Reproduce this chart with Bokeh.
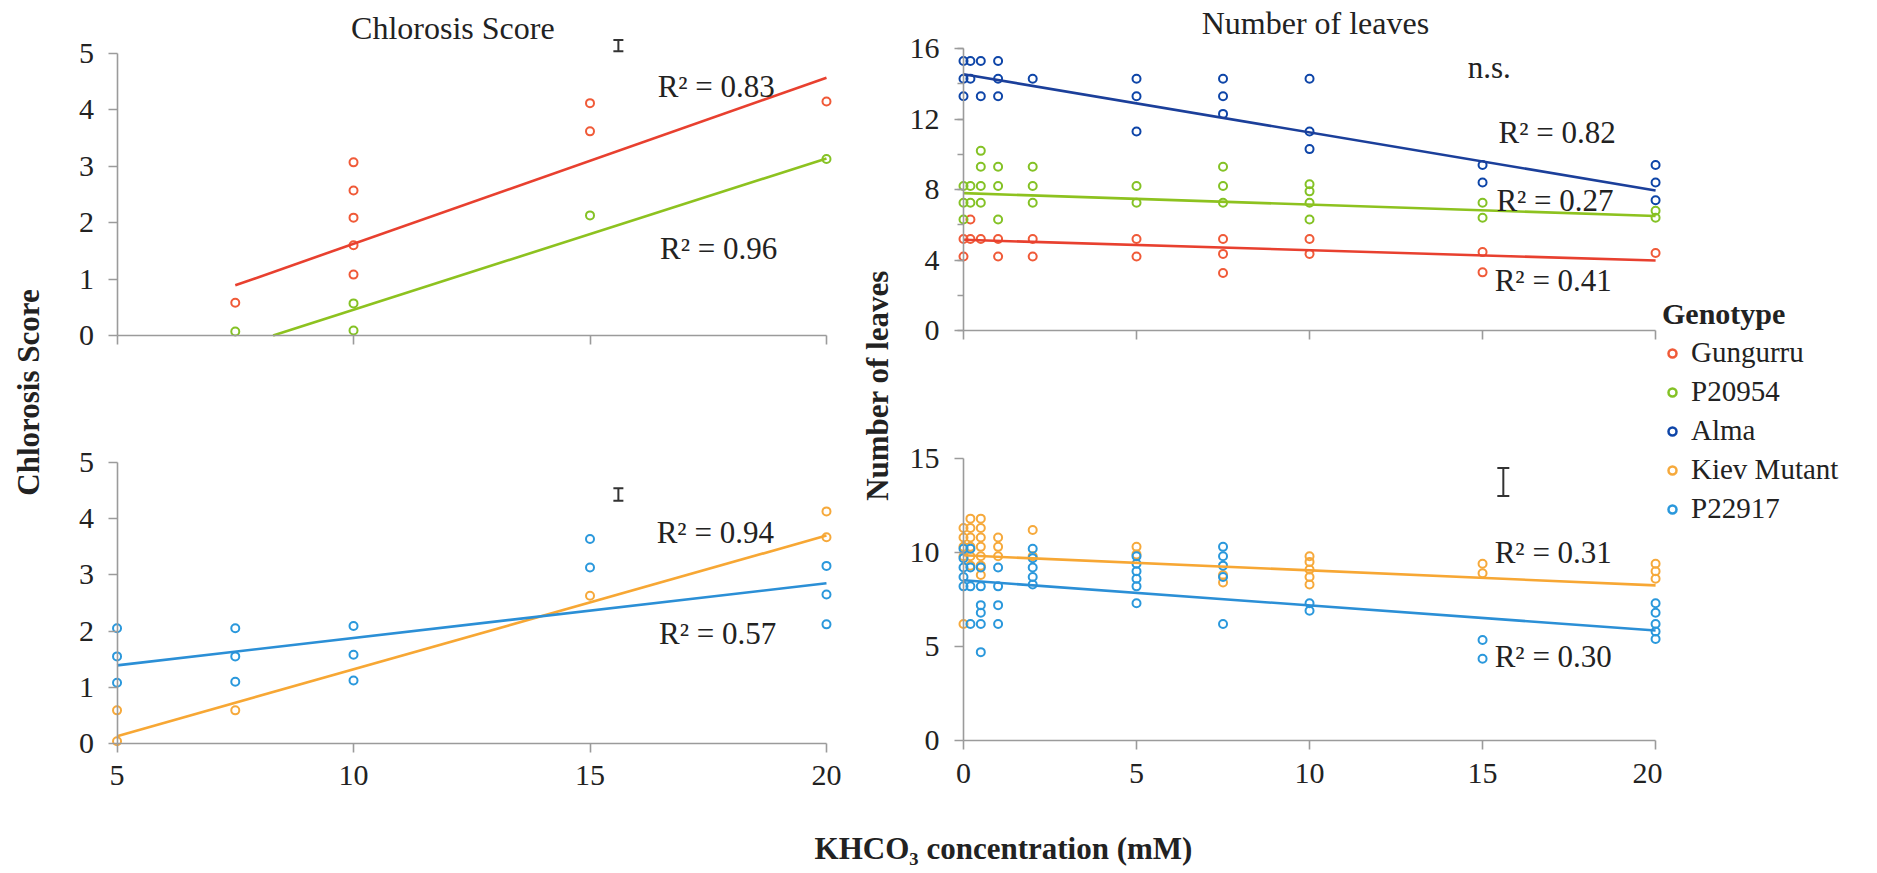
from math import pi
from bokeh.plotting import figure
from bokeh.models import (Range1d, FixedTicker, Label, Legend, LegendItem, Whisker,
                          TeeHead, ColumnDataSource, Spacer)
from bokeh.layouts import row, column
from bokeh.embed import file_html
from bokeh.resources import INLINE

FONT = "Liberation Serif"
TXT = "#222222"
AX = "#9b9b9b"

# ---------------- data ----------------
genotypes = ["Gungurru", "P20954", "Alma", "Kiev Mutant", "P22917"]
point_colors = ["#F05A38", "#84C225", "#0E45A8", "#F6A93B", "#2A98DC"]
line_colors = ["#E8402F", "#8DC21F", "#1B3F9A", "#F7A734", "#2B8FD6"]

# Chlorosis score (left panels), KHCO3 mM vs score
cs_gungurru_x = [7.5, 10, 10, 10, 10, 10, 15, 15, 20]
cs_gungurru_y = [0.58, 3.07, 2.57, 2.09, 1.60, 1.08, 4.12, 3.62, 4.15]
cs_p20954_x = [7.5, 10, 10, 15, 20]
cs_p20954_y = [0.07, 0.57, 0.09, 2.13, 3.13]
cs_kiev_x = [5, 5, 7.5, 15, 20, 20]
cs_kiev_y = [0.59, 0.04, 0.59, 2.63, 4.13, 3.67]
cs_p22917_x = [5, 5, 5, 7.5, 7.5, 7.5, 10, 10, 10, 15, 15, 20, 20, 20]
cs_p22917_y = [2.05, 1.55, 1.08, 2.05, 1.55, 1.10, 2.09, 1.58, 1.12, 3.64, 3.13, 3.16, 2.65, 2.12]
# fitted lines (end points)
cs_gungurru_fit_x = [7.5, 20]
cs_gungurru_fit_y = [0.89, 4.57]
cs_p20954_fit_x = [8.3, 20]
cs_p20954_fit_y = [0.0, 3.14]
cs_kiev_fit_x = [5, 20]
cs_kiev_fit_y = [0.13, 3.70]
cs_p22917_fit_x = [5, 20]
cs_p22917_fit_y = [1.39, 2.85]
cs_top_r2 = ["R² = 0.83", "R² = 0.96"]
cs_bottom_r2 = ["R² = 0.94", "R² = 0.57"]

# Number of leaves (right panels)
nl_gungurru_x = [0.2, 0, 0.2, 0.5, 1, 2, 5, 7.5, 10, 0, 1, 2, 5, 7.5, 10, 7.5, 15, 15, 20]
nl_gungurru_y = [6.3, 5.2, 5.2, 5.2, 5.2, 5.2, 5.2, 5.2, 5.2, 4.2, 4.2, 4.2, 4.2, 4.35, 4.35,
                 3.26, 3.3, 4.45, 4.4]
nl_p20954_x = [0.5, 0.5, 1, 2, 7.5, 0, 0.2, 0.5, 1, 2, 5, 7.5, 10, 10,
               0, 0.2, 0.5, 2, 5, 7.5, 10, 15, 0, 1, 10, 15, 20, 20]
nl_p20954_y = [10.2, 9.3, 9.3, 9.3, 9.3, 8.2, 8.2, 8.2, 8.2, 8.2, 8.2, 8.2, 8.3, 7.9,
               7.25, 7.25, 7.25, 7.25, 7.25, 7.25, 7.25, 7.25, 6.3, 6.3, 6.3, 6.4, 6.8, 6.4]
nl_alma_x = [0, 0.2, 0.5, 1, 0, 0.2, 1, 2, 5, 7.5, 10, 0, 0.5, 1, 5, 7.5, 7.5, 5, 10, 10,
             15, 15, 20, 20, 20]
nl_alma_y = [15.3, 15.3, 15.3, 15.3, 14.3, 14.3, 14.3, 14.3, 14.3, 14.3, 14.3,
             13.3, 13.3, 13.3, 13.3, 13.3, 12.3, 11.3, 11.3, 10.3, 9.4, 8.4, 9.4, 8.4, 7.4]
nl_kiev_x = [0, 0, 0, 0, 0, 0.2, 0.2, 0.2, 0.2, 0.2, 0.2, 0.5, 0.5, 0.5, 0.5, 0.5, 0.5, 0.5,
             1, 1, 1, 2, 2, 5, 5, 7.5, 7.5, 10, 10, 10, 10, 10, 15, 15, 20, 20, 20]
nl_kiev_y = [11.3, 10.8, 10.3, 9.8, 6.2, 11.8, 11.3, 10.8, 10.3, 9.8, 9.3,
             11.8, 11.3, 10.8, 10.3, 9.8, 9.3, 8.8, 10.8, 10.3, 9.8, 11.2, 9.8, 10.3, 9.9,
             8.8, 8.4, 9.8, 9.5, 9.1, 8.7, 8.3, 9.4, 8.9, 9.4, 9.0, 8.6]
nl_p22917_x = [0, 0, 0, 0, 0, 0.2, 0.2, 0.2, 0.2, 0.5, 0.5, 0.5, 0.5, 0.5, 0.5,
               1, 1, 1, 1, 2, 2, 2, 2, 2, 5, 5, 5, 5, 5, 5, 7.5, 7.5, 7.5, 7.5, 7.5,
               10, 10, 15, 15, 20, 20, 20, 20, 20]
nl_p22917_y = [10.2, 9.7, 9.2, 8.7, 8.2, 10.2, 9.2, 8.2, 6.2, 9.2, 8.2, 7.2, 6.8, 6.2, 4.7,
               9.2, 8.2, 7.2, 6.2, 10.2, 9.7, 9.2, 8.7, 8.3, 9.8, 9.4, 9.0, 8.6, 8.2, 7.3,
               10.3, 9.8, 9.3, 8.7, 6.2, 7.3, 6.9, 5.35, 4.35, 7.3, 6.8, 6.2, 5.8, 5.4]
nl_gungurru_fit_x = [0, 20]
nl_gungurru_fit_y = [5.15, 3.97]
nl_p20954_fit_x = [0, 20]
nl_p20954_fit_y = [7.8, 6.5]
nl_alma_fit_x = [0, 20]
nl_alma_fit_y = [14.55, 7.95]
nl_kiev_fit_x = [0, 20]
nl_kiev_fit_y = [9.85, 8.25]
nl_p22917_fit_x = [0, 20]
nl_p22917_fit_y = [8.52, 5.85]
nl_top_r2 = ["R² = 0.82", "R² = 0.27", "R² = 0.41"]
nl_bottom_r2 = ["R² = 0.31", "R² = 0.30"]

# LSD bars: (x, lower, upper)
lsd_cs_top = ([15.6], [5.04], [5.24])
lsd_cs_bottom = ([15.6], [4.32], [4.54])
lsd_nl_bottom = ([15.6], [13.0], [14.5])

cs_ticks_x = [5, 10, 15, 20]
cs_ticks_y = [0, 1, 2, 3, 4, 5]
nl_ticks_x = [0, 5, 10, 15, 20]
nl_top_ticks_y = [0, 4, 8, 12, 16]
nl_top_minor_y = [0, 2, 4, 6, 8, 10, 12, 14, 16]
nl_bottom_ticks_y = [0, 5, 10, 15]


def make_panel(width, height, xr, yr, xt, xb, yt, yb, ym, x_at, y_at, x_labels, y_standoff):
    p = figure(width=width, height=height, x_range=Range1d(*xr), y_range=Range1d(*yr),
               output_backend="svg", toolbar_location=None, title=None,
               min_border_left=0, min_border_right=0, min_border_top=0,
               min_border_bottom=0)
    p.outline_line_color = None
    p.xgrid.visible = False
    p.ygrid.visible = False
    p.background_fill_color = "white"
    p.border_fill_color = "white"
    xa = p.xaxis[0]
    ya = p.yaxis[0]
    if x_labels:
        xa.ticker = FixedTicker(ticks=xt)
    else:
        # unlabelled panels: tick marks only (drawn as minor ticks, no label texts)
        xa.ticker = FixedTicker(ticks=[], minor_ticks=xt)
    ya.ticker = FixedTicker(ticks=yt, minor_ticks=ym)
    xa.bounds = xb
    ya.bounds = yb
    xa.fixed_location = x_at
    ya.fixed_location = y_at
    for ax in (xa, ya):
        ax.axis_line_color = AX
        ax.axis_line_width = 1.6
        ax.major_tick_line_color = AX
        ax.major_tick_line_width = 1.6
        ax.major_tick_in = 0
        ax.major_tick_out = 9
        ax.minor_tick_line_color = AX
        ax.minor_tick_line_width = 1.4
        ax.minor_tick_in = 0
        ax.minor_tick_out = 6
        ax.major_label_text_font = FONT
        ax.major_label_text_font_size = "30px"
        ax.major_label_text_color = TXT
    ya.major_label_standoff = y_standoff
    if not ym:
        ya.minor_tick_line_color = None
    if x_labels:
        xa.minor_tick_line_color = None
        xa.major_label_standoff = 14
    else:
        xa.minor_tick_out = 9
        xa.minor_tick_line_width = 1.6
    return p


def pts(p, x, y, c):
    p.scatter(x=x, y=y, marker="circle", size=8, fill_color=None, line_color=c, line_width=2)


def fit(p, x, y, c):
    p.line(x=x, y=y, line_color=c, line_width=2.6)


def text(p, x, y, s, size="31px", align="left", style="normal", angle=0.0):
    p.add_layout(Label(x=x, y=y, text=s, text_font=FONT, text_font_size=size,
                       text_color=TXT, text_align=align, text_baseline="middle",
                       text_font_style=style, angle=angle))


def lsd(p, bar, head):
    src = ColumnDataSource(dict(x=bar[0], lower=bar[1], upper=bar[2]))
    p.add_layout(Whisker(source=src, base="x", lower="lower", upper="upper",
                         dimension="height", line_color="#333333", line_width=2,
                         upper_head=TeeHead(size=head, line_color="#333333", line_width=2),
                         lower_head=TeeHead(size=head, line_color="#333333", line_width=2)))


# ---------------- left column (Chlorosis) ----------------
tl = make_panel(790, 400, (3.847, 20.55), (-1.152, 5.94),
                cs_ticks_x, (5, 20), cs_ticks_y, (0, 5), [], 0, 5, False, 14)
pts(tl, cs_gungurru_x, cs_gungurru_y, point_colors[0])
pts(tl, cs_p20954_x, cs_p20954_y, point_colors[1])
fit(tl, cs_gungurru_fit_x, cs_gungurru_fit_y, line_colors[0])
fit(tl, cs_p20954_fit_x, cs_p20954_fit_y, line_colors[1])
text(tl, 12.1, 5.46, "Chlorosis Score", size="32px", align="center")
text(tl, 16.43, 4.415, cs_top_r2[0])
text(tl, 16.48, 1.54, cs_top_r2[1])
lsd(tl, lsd_cs_top, 10)

bl = make_panel(790, 430, (3.847, 20.55), (-1.548, 6.103),
                cs_ticks_x, (5, 20), cs_ticks_y, (0, 5), [], 0, 5, True, 14)
pts(bl, cs_kiev_x, cs_kiev_y, point_colors[3])
pts(bl, cs_p22917_x, cs_p22917_y, point_colors[4])
fit(bl, cs_kiev_fit_x, cs_kiev_fit_y, line_colors[3])
fit(bl, cs_p22917_fit_x, cs_p22917_fit_y, line_colors[4])
text(bl, 16.41, 3.75, cs_bottom_r2[0])
text(bl, 16.46, 1.96, cs_bottom_r2[1])
lsd(bl, lsd_cs_bottom, 10)

# ---------------- right column (Number of leaves) ----------------
tr = make_panel(767, 400, (-1.965, 20.2), (-3.977, 18.74),
                nl_ticks_x, (0, 20), nl_top_ticks_y, (0, 16), nl_top_minor_y, 0, 0, False, 15)
pts(tr, nl_gungurru_x, nl_gungurru_y, point_colors[0])
pts(tr, nl_p20954_x, nl_p20954_y, point_colors[1])
pts(tr, nl_alma_x, nl_alma_y, point_colors[2])
fit(tr, nl_gungurru_fit_x, nl_gungurru_fit_y, line_colors[0])
fit(tr, nl_p20954_fit_x, nl_p20954_fit_y, line_colors[1])
fit(tr, nl_alma_fit_x, nl_alma_fit_y, line_colors[2])
text(tr, 10.17, 17.44, "Number of leaves", size="32px", align="center")
text(tr, 14.57, 14.94, "n.s.")
text(tr, 15.46, 11.25, nl_top_r2[0])
text(tr, 15.40, 7.39, nl_top_r2[1])
text(tr, 15.35, 2.84, nl_top_r2[2])

br = make_panel(767, 430, (-1.965, 20.2), (-4.787, 18.085),
                nl_ticks_x, (0, 20), nl_bottom_ticks_y, (0, 15), [], 0, 0, True, 15)
pts(br, nl_kiev_x, nl_kiev_y, point_colors[3])
pts(br, nl_p22917_x, nl_p22917_y, point_colors[4])
fit(br, nl_kiev_fit_x, nl_kiev_fit_y, line_colors[3])
fit(br, nl_p22917_fit_x, nl_p22917_fit_y, line_colors[4])
text(br, 15.35, 10.0, nl_bottom_r2[0])
text(br, 15.35, 4.47, nl_bottom_r2[1])
lsd(br, lsd_nl_bottom, 12)


def blank(w, h, xr=None, yr=None):
    f = figure(width=w, height=h, x_range=Range1d(*(xr or (0, w))),
               y_range=Range1d(*(yr or (0, h))),
               x_axis_location=None, y_axis_location=None, min_border=0,
               output_backend="svg", toolbar_location=None, title=None)
    f.outline_line_color = None
    f.background_fill_color = "white"
    f.border_fill_color = "white"
    f.grid.visible = False
    return f


left_lab = blank(62, 830)
text(left_lab, 28, 830 - 392, "Chlorosis Score", align="center", style="bold", angle=pi / 2)
mid_lab = blank(43, 830)
text(mid_lab, 25, 830 - 385, "Number of leaves", align="center", style="bold", angle=pi / 2)
x_title = blank(1877, 43)
text(x_title, 1003, 43 - 18, "KHCO₃ concentration (mM)", align="center", style="bold")

# legend
lf = blank(215, 533, (0, 1), (0, 1))
nan = float("nan")
items = []
for g, c in zip(genotypes, point_colors):
    r = lf.scatter(x=[nan], y=[nan], marker="circle", size=8, fill_color=None,
                   line_color=c, line_width=2.5)
    items.append(LegendItem(label=g, renderers=[r]))
leg = Legend(items=items, title="Genotype", location="top_left")
leg.title_text_font = FONT
leg.title_text_font_style = "bold"
leg.title_text_font_size = "30px"
leg.title_text_color = TXT
leg.title_standoff = 2
leg.label_text_font = FONT
leg.label_text_font_size = "29px"
leg.label_text_color = TXT
leg.border_line_color = None
leg.background_fill_alpha = 0
leg.padding = 0
leg.margin = 0
leg.spacing = 0
leg.label_height = 39
leg.glyph_height = 20
leg.glyph_width = 20
leg.label_standoff = 9
lf.add_layout(leg)

layout = column(
    row(left_lab, column(tl, bl), mid_lab, column(tr, br),
        column(Spacer(width=215, height=297), lf)),
    x_title,
)

open("out.html", "w").write(file_html(layout, INLINE))
